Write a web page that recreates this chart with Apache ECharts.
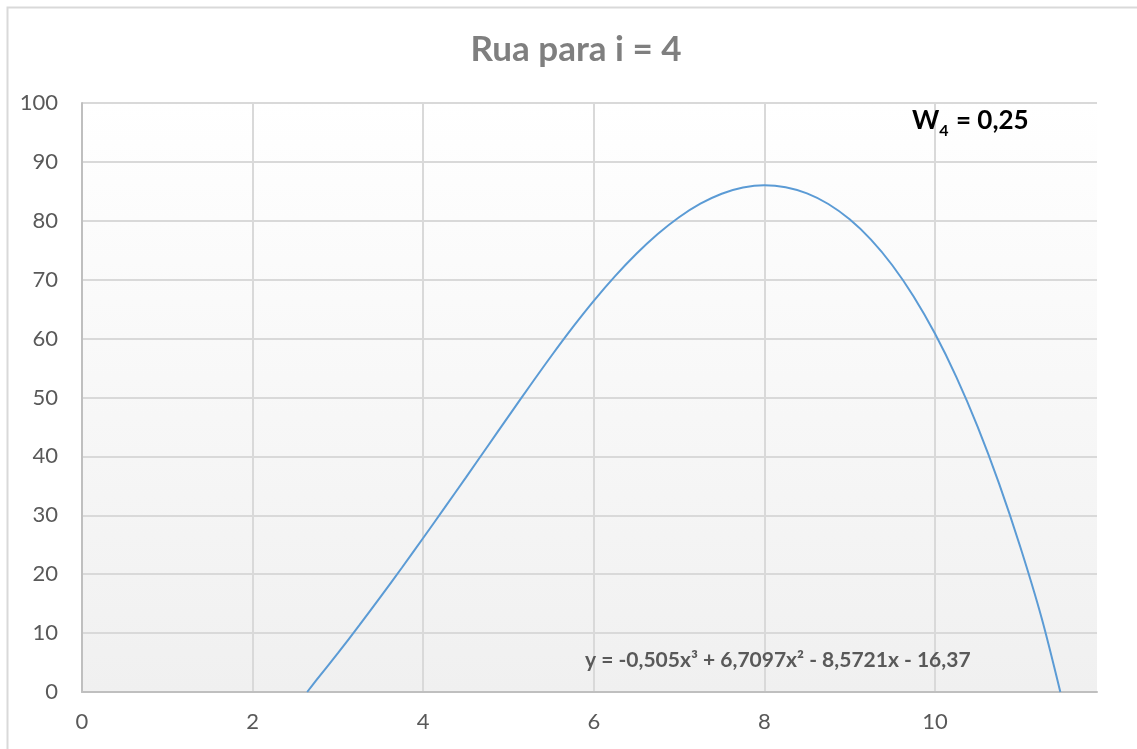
<!DOCTYPE html>
<html>
<head>
<meta charset="utf-8">
<title>Rua para i = 4</title>
<script src="https://cdn.jsdelivr.net/npm/echarts@6/dist/echarts.min.js"></script>
<style>
  html, body { margin: 0; padding: 0; background: #ffffff; }
  #chart { width: 1137px; height: 749px; }
</style>
</head>
<body>
<div id="chart"></div>
<script>
// Curve points (x, y)
const curveX = [2.64, 2.75, 3.0, 3.25, 3.5, 3.75, 4.0, 4.25, 4.5, 4.75, 5.0, 5.25, 5.5, 5.75, 6.0, 6.25, 6.5, 6.75, 7.0, 7.25, 7.5, 7.75, 8.0, 8.25, 8.5, 8.75, 9.0, 9.25, 9.5, 9.75, 10.0, 10.25, 10.5, 10.75, 11.0, 11.25, 11.47];
const curveY = [0, 2.05, 6.6, 11.3, 16.15, 21.1, 26.15, 31.25, 36.4, 41.6, 46.8, 51.95, 57.0, 61.85, 66.4, 70.6, 74.4, 77.75, 80.6, 82.9, 84.6, 85.65, 86.05, 85.7, 84.65, 82.85, 80.25, 76.8, 72.45, 67.15, 60.85, 53.5, 45.05, 35.45, 24.65, 12.6, 0];

// Axis ranges
const xRange = [0, 11.9];
const xStep = 2;
const yRange = [0, 100];
const yStep = 10;

// Texts
const chartTitle = 'Rua para i = 4';
const trendText = 'y = -0,505x³ + 6,7097x² - 8,5721x - 16,37';
const weightName = 'W';
const weightIndex = '4';
const weightValue = ' = 0,25';

const FONT = 'Lato, "Open Sans", sans-serif';
const chart = echarts.init(document.getElementById('chart'), null, { renderer: 'canvas' });

const points = curveX.map((x, i) => [x, curveY[i]]);

chart.setOption({
  backgroundColor: '#ffffff',
  animation: false,
  title: {
    text: chartTitle,
    left: 571,
    textAlign: 'center',
    top: 27,
    textStyle: { fontFamily: FONT, fontSize: 35, fontWeight: 'bold', color: '#7f7f7f' }
  },
  grid: {
    left: 82, right: 40, top: 103, bottom: 57,
    show: true,
    borderWidth: 0,
    backgroundColor: new echarts.graphic.LinearGradient(0, 0, 0, 1, [
      { offset: 0, color: '#ffffff' },
      { offset: 1, color: '#f0f0f0' }
    ])
  },
  xAxis: {
    type: 'value',
    min: xRange[0], max: xRange[1], interval: xStep,
    axisLine: { show: true, onZero: false, lineStyle: { color: '#bfbfbf', width: 2 } },
    axisTick: { show: false },
    splitLine: {
      show: true,
      lineStyle: {
        color: ['#d9d9d9', '#d9d9d9', '#d9d9d9', '#d9d9d9', '#d9d9d9', '#d9d9d9', 'rgba(0,0,0,0)'],
        width: 2
      }
    },
    axisLabel: {
      fontFamily: FONT, fontSize: 22, color: '#595959', margin: 19,
      showMaxLabel: false,
      formatter: v => (v % xStep === 0 ? String(v) : '')
    }
  },
  yAxis: {
    type: 'value',
    min: yRange[0], max: yRange[1], interval: yStep,
    axisLine: { show: true, lineStyle: { color: '#bfbfbf', width: 2 } },
    axisTick: { show: false },
    splitLine: { show: true, lineStyle: { color: '#d9d9d9', width: 2 } },
    axisLabel: { fontFamily: FONT, fontSize: 22, color: '#595959', margin: 24 }
  },
  series: [{
    type: 'line',
    data: points,
    smooth: 0.3,
    showSymbol: false,
    lineStyle: { color: '#5b9bd5', width: 2 },
    z: 3
  }],
  graphic: [
    {
      type: 'rect',
      left: 5, top: 5,
      shape: { width: 1160, height: 780 },
      style: { fill: 'none', stroke: '#d9d9d9', lineWidth: 2 },
      silent: true, z: -10
    },
    {
      type: 'text',
      left: 912, top: 103,
      style: {
        text: '{m|' + weightName + '}{s|' + weightIndex + '}{m|' + weightValue + '}',
        rich: {
          m: { fontFamily: FONT, fontSize: 26, fontWeight: 'bold', fill: '#000000', lineHeight: 32 },
          s: { fontFamily: FONT, fontSize: 16, fontWeight: 'bold', fill: '#000000', lineHeight: 32, padding: [20, 1, 0, 0] }
        }
      },
      z: 10
    },
    {
      type: 'text',
      left: 585, top: 650,
      style: {
        text: trendText,
        fontFamily: FONT, fontSize: 21, fontWeight: 'bold', fill: '#595959'
      },
      z: 10
    }
  ]
});
</script>
</body>
</html>
